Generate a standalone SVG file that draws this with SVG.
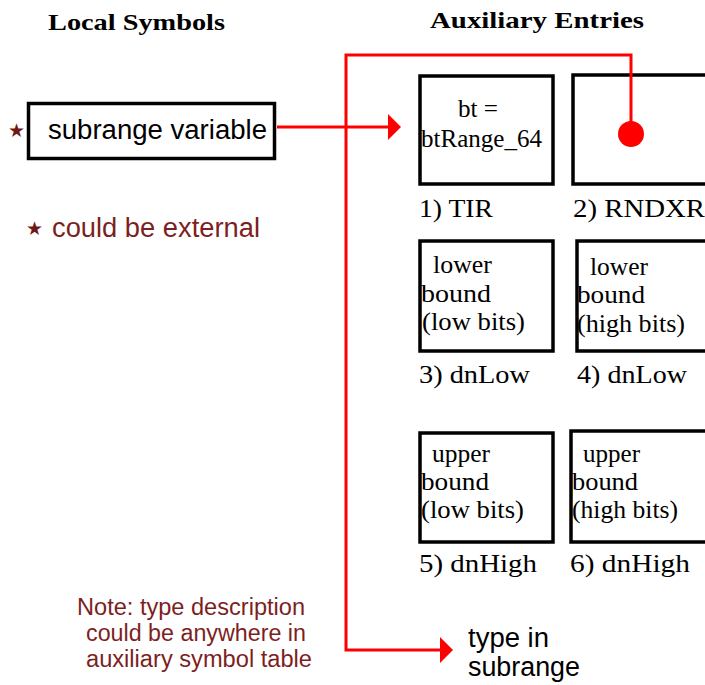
<svg xmlns="http://www.w3.org/2000/svg" width="705" height="685" viewBox="0 0 705 685">
<style>
.bg{fill:#ffffff}
.box{fill:#ffffff;stroke:#000000;stroke-width:3.5}
.head{font-family:"Liberation Serif","Times New Roman",serif;font-weight:bold;font-size:23px;fill:#000}
.ser{font-family:"Liberation Serif","Times New Roman",serif;font-size:25px;fill:#000}
.sans{font-family:"Liberation Sans",Arial,sans-serif;font-size:27px;fill:#000}
.note{font-family:"Liberation Sans",Arial,sans-serif;font-size:23px;fill:#7d1f1f}
.star{font-family:"DejaVu Sans",sans-serif;font-size:19px;fill:#701818}
.wire{fill:none;stroke:#ff0000;stroke-width:3}
</style>
<defs>
<marker id="arr" markerUnits="userSpaceOnUse" markerWidth="14" markerHeight="28" refX="0" refY="13" orient="auto" viewBox="0 0 14 28">
<path d="M0,0 L13,13 L0,26 z" fill="#ff0000"/>
</marker>
</defs>
<rect class="bg" x="0" y="0" width="705" height="685"/>

<g id="headings">
<text class="head" x="48" y="30" textLength="177" lengthAdjust="spacingAndGlyphs">Local Symbols</text>
<text class="head" x="430" y="28" textLength="214" lengthAdjust="spacingAndGlyphs">Auxiliary Entries</text>
</g>

<g id="local-symbol">
<rect class="box" x="28.5" y="103.5" width="246" height="55"/>
<text class="sans" x="48" y="139" textLength="219" lengthAdjust="spacingAndGlyphs">subrange variable</text>
<text class="star" x="8" y="137">★</text>
</g>

<g id="external-note">
<text class="star" x="26" y="235">★</text>
<text class="sans" x="52" y="237" style="fill:#7d1f1f" textLength="208" lengthAdjust="spacingAndGlyphs">could be external</text>
</g>

<g id="entry1">
<rect class="box" x="420" y="76" width="133" height="108"/>
<text class="ser" x="458" y="117" textLength="40" lengthAdjust="spacingAndGlyphs">bt =</text>
<text class="ser" x="421" y="147" textLength="121" lengthAdjust="spacingAndGlyphs">btRange_64</text>
<text class="ser" x="419" y="217" textLength="74" lengthAdjust="spacingAndGlyphs">1) TIR</text>
</g>

<g id="entry2">
<rect class="box" x="573" y="75" width="140" height="109"/>
<text class="ser" x="573" y="217" textLength="132" lengthAdjust="spacingAndGlyphs">2) RNDXR</text>
</g>

<g id="entry3">
<rect class="box" x="420" y="241" width="133" height="110"/>
<text class="ser" x="433" y="273" textLength="59" lengthAdjust="spacingAndGlyphs">lower</text>
<text class="ser" x="421" y="302" textLength="70" lengthAdjust="spacingAndGlyphs">bound</text>
<text class="ser" x="422" y="330" textLength="103" lengthAdjust="spacingAndGlyphs">(low bits)</text>
<text class="ser" x="419" y="383" textLength="111" lengthAdjust="spacingAndGlyphs">3) dnLow</text>
</g>

<g id="entry4">
<rect class="box" x="577" y="241" width="140" height="110"/>
<text class="ser" x="590" y="275" textLength="58" lengthAdjust="spacingAndGlyphs">lower</text>
<text class="ser" x="577" y="303" textLength="68" lengthAdjust="spacingAndGlyphs">bound</text>
<text class="ser" x="577" y="332" textLength="108" lengthAdjust="spacingAndGlyphs">(high bits)</text>
<text class="ser" x="577" y="383" textLength="110" lengthAdjust="spacingAndGlyphs">4) dnLow</text>
</g>

<g id="entry5">
<rect class="box" x="420" y="433" width="133" height="109"/>
<text class="ser" x="432" y="462" textLength="58" lengthAdjust="spacingAndGlyphs">upper</text>
<text class="ser" x="421" y="490" textLength="68" lengthAdjust="spacingAndGlyphs">bound</text>
<text class="ser" x="421" y="518" textLength="103" lengthAdjust="spacingAndGlyphs">(low bits)</text>
<text class="ser" x="419" y="572" textLength="118" lengthAdjust="spacingAndGlyphs">5) dnHigh</text>
</g>

<g id="entry6">
<rect class="box" x="571" y="431" width="140" height="111"/>
<text class="ser" x="583" y="462" textLength="57" lengthAdjust="spacingAndGlyphs">upper</text>
<text class="ser" x="572" y="490" textLength="66" lengthAdjust="spacingAndGlyphs">bound</text>
<text class="ser" x="572" y="518" textLength="106" lengthAdjust="spacingAndGlyphs">(high bits)</text>
<text class="ser" x="570" y="572" textLength="120" lengthAdjust="spacingAndGlyphs">6) dnHigh</text>
</g>

<g id="type-in-subrange">
<text class="sans" x="468" y="647" textLength="81" lengthAdjust="spacingAndGlyphs">type in</text>
<text class="sans" x="468" y="676" textLength="112" lengthAdjust="spacingAndGlyphs">subrange</text>
</g>

<g id="note">
<text class="note" x="77" y="615" textLength="228" lengthAdjust="spacingAndGlyphs">Note: type description</text>
<text class="note" x="86" y="641" textLength="220" lengthAdjust="spacingAndGlyphs">could be anywhere in</text>
<text class="note" x="86" y="667" textLength="226" lengthAdjust="spacingAndGlyphs">auxiliary symbol table</text>
</g>

<g id="connectors">
<path class="wire" d="M277,127 H388" marker-end="url(#arr)"/>
<path class="wire" d="M631,134 V55 H346 V650 H440" marker-end="url(#arr)"/>
<circle cx="631" cy="134" r="13" fill="#ff0000"/>
</g>
</svg>
